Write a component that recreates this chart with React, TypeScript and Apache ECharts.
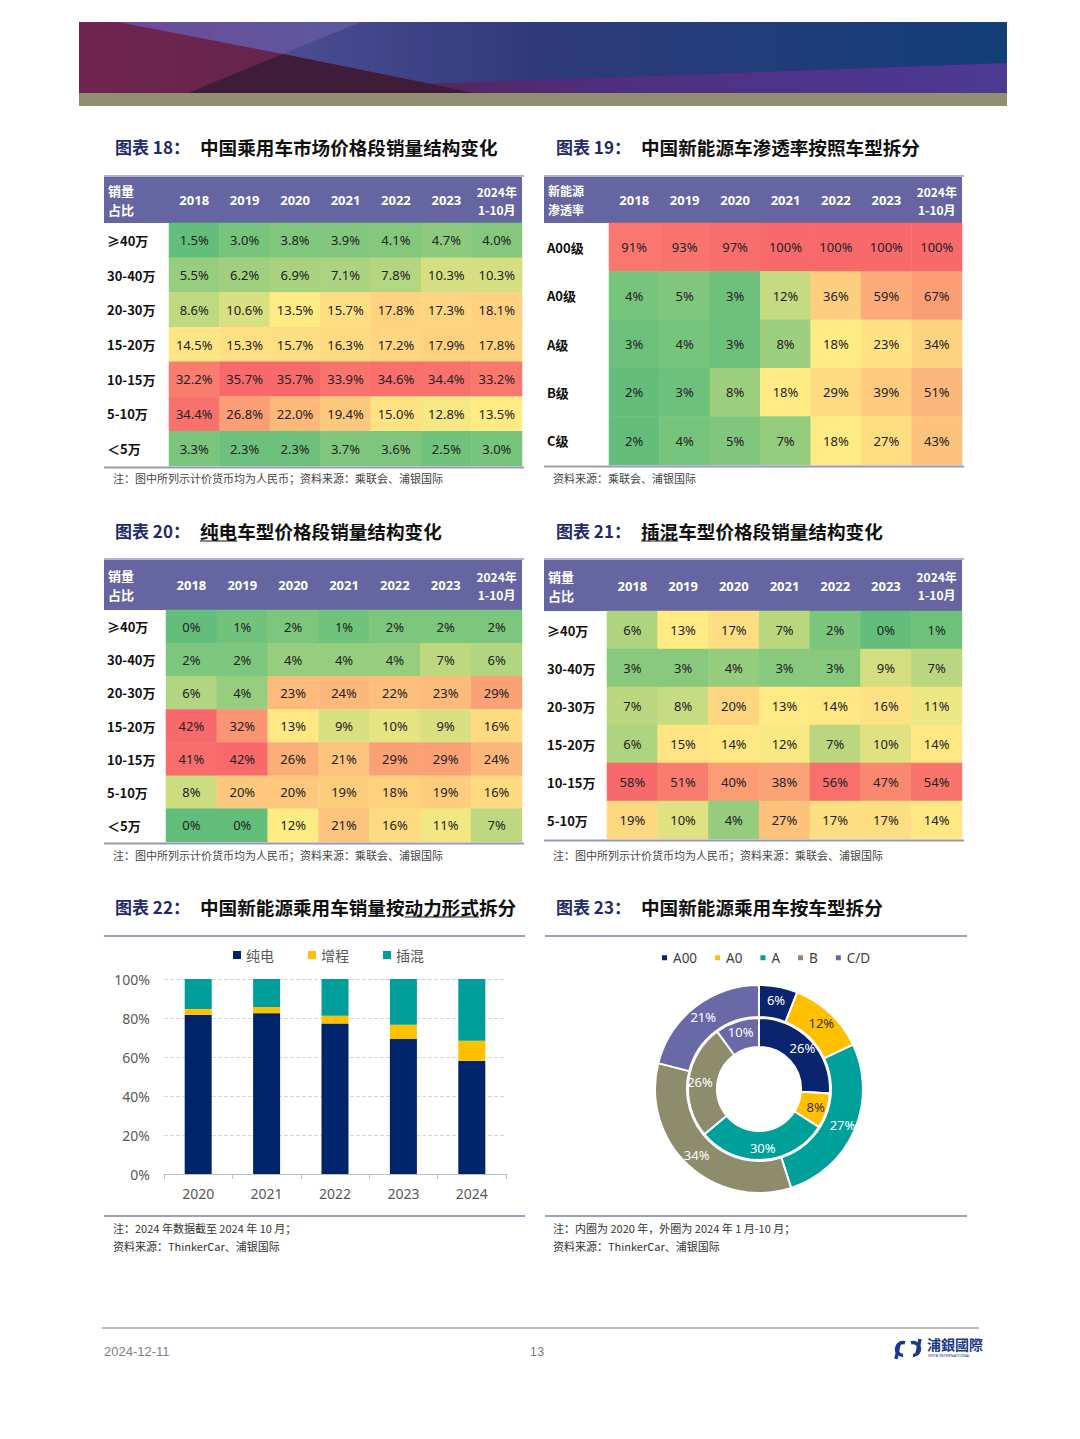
import React, { useEffect, useRef } from 'react';
import * as echarts from 'echarts';

const CJK = '"Noto Sans CJK SC", "Noto Sans", sans-serif';
const LAT = '"Noto Sans", "Noto Sans CJK SC", sans-serif';

// ---------- data ----------
const years = ['2018', '2019', '2020', '2021', '2022', '2023', '2024年\n1-10月'];
const priceBands7 = ['≥40万', '30-40万', '20-30万', '15-20万', '10-15万', '5-10万', '＜5万'];
const priceBands6 = ['≥40万', '30-40万', '20-30万', '15-20万', '10-15万', '5-10万'];
const segments = ['A00级', 'A0级', 'A级', 'B级', 'C级'];

// 图表18 中国乘用车市场价格段销量结构 (%)
const marketShare = [
  [1.5, 3.0, 3.8, 3.9, 4.1, 4.7, 4.0],
  [5.5, 6.2, 6.9, 7.1, 7.8, 10.3, 10.3],
  [8.6, 10.6, 13.5, 15.7, 17.8, 17.3, 18.1],
  [14.5, 15.3, 15.7, 16.3, 17.2, 17.9, 17.8],
  [32.2, 35.7, 35.7, 33.9, 34.6, 34.4, 33.2],
  [34.4, 26.8, 22.0, 19.4, 15.0, 12.8, 13.5],
  [3.3, 2.3, 2.3, 3.7, 3.6, 2.5, 3.0],
];
// 图表19 新能源渗透率 (%)
const nevPenetration = [
  [91, 93, 97, 100, 100, 100, 100],
  [4, 5, 3, 12, 36, 59, 67],
  [3, 4, 3, 8, 18, 23, 34],
  [2, 3, 8, 18, 29, 39, 51],
  [2, 4, 5, 7, 18, 27, 43],
];
// 图表20 纯电 (%)
const bevShare = [
  [0, 1, 2, 1, 2, 2, 2],
  [2, 2, 4, 4, 4, 7, 6],
  [6, 4, 23, 24, 22, 23, 29],
  [42, 32, 13, 9, 10, 9, 16],
  [41, 42, 26, 21, 29, 29, 24],
  [8, 20, 20, 19, 18, 19, 16],
  [0, 0, 12, 21, 16, 11, 7],
];
// 图表21 插混 (%)
const phevShare = [
  [6, 13, 17, 7, 2, 0, 1],
  [3, 3, 4, 3, 3, 9, 7],
  [7, 8, 20, 13, 14, 16, 11],
  [6, 15, 14, 12, 7, 10, 14],
  [58, 51, 40, 38, 56, 47, 54],
  [19, 10, 4, 27, 17, 17, 14],
];

// 图表22
const barYears = ['2020', '2021', '2022', '2023', '2024'];
const bevPower = [81.7, 82.5, 77.2, 69.2, 58.0];
const erevPower = [2.9, 3.1, 3.9, 7.3, 10.3];
const phevPower = [15.4, 14.4, 18.9, 23.5, 31.7];

// 图表23
const segNames = ['A00', 'A0', 'A', 'B', 'C/D'];
const seg2020 = [26, 8, 30, 26, 10];
const seg2024 = [6, 12, 27, 34, 21];

// ---------- styling helpers ----------
const GREEN = '#63BE7B';
const YELLOW = '#FFEB84';
const RED = '#F8696B';

function median(arr: number[]) {
  const s = [...arr].sort((a, b) => a - b);
  const pos = (s.length - 1) * 0.5;
  const lo = Math.floor(pos), hi = Math.ceil(pos);
  return s[lo] + (s[hi] - s[lo]) * (pos - lo);
}
// 3-colour scale position (0 = min, 1 = median, 2 = max), like a spreadsheet colour scale
function scalePos(rows: number[][]) {
  const flat = rows.flat();
  const min = Math.min(...flat), max = Math.max(...flat), mid = median(flat);
  return (v: number) => (v <= mid ? (mid === min ? 1 : (v - min) / (mid - min)) : 1 + (v - mid) / (max - mid));
}

const HEADER = '#6566A1';
const RULE = '#7D7DA8';
const TITLE_SIZE = 18.6;

const pct1 = (v: number) => v.toFixed(1) + '%';
const pct0 = (v: number) => v + '%';

const tables = [
  { rows: marketShare, names: priceBands7, corner: '销量\n占比', cornerSize: 13, left: 169, right: 522, top: 223, bottom: 466, hx: 104, htop: 177, fmt: pct1 },
  { rows: nevPenetration, names: segments, corner: '新能源\n渗透率', cornerSize: 12, left: 609, right: 962, top: 223, bottom: 465, hx: 544, htop: 177, fmt: pct0 },
  { rows: bevShare, names: priceBands7, corner: '销量\n占比', cornerSize: 13, left: 166, right: 522, top: 610, bottom: 842, hx: 104, htop: 560, fmt: pct0 },
  { rows: phevShare, names: priceBands6, corner: '销量\n占比', cornerSize: 13, left: 607, right: 962, top: 611, bottom: 839, hx: 544, htop: 560, fmt: pct0 },
];

function text(x: number, y: number, t: string, o: any = {}) {
  return {
    type: 'text', x, y, z: 20,
    style: {
      text: t, fill: o.fill || '#333', fontSize: o.size || 12, fontWeight: o.weight || 'normal',
      fontFamily: o.family || CJK, align: o.align || 'left', verticalAlign: o.va || 'middle',
      lineHeight: o.lh,
    },
  };
}
function line(x1: number, y1: number, x2: number, y2: number, stroke: string, w = 1) {
  return { type: 'line', z: 20, shape: { x1, y1, x2, y2 }, style: { stroke, lineWidth: w } };
}

export default function App() {
  const ref = useRef<HTMLDivElement>(null);
  useEffect(() => {
    document.body.style.margin = '0';
    const chart = echarts.init(ref.current!, undefined, { renderer: 'svg' });

    const grids: any[] = [];
    const xAxes: any[] = [];
    const yAxes: any[] = [];
    const series: any[] = [];
    const visualMaps: any[] = [];
    const graphics: any[] = [];

    // ---------- banner ----------
    graphics.push(
      { type: 'rect', z: 1, shape: { x: 79, y: 22, width: 928, height: 71 }, style: { fill: new echarts.graphic.LinearGradient(0, 0, 1, 0, [{ offset: 0, color: '#6F2551' }, { offset: 0.45, color: '#5B2447' }, { offset: 1, color: '#4A2348' }]) } },
      { type: 'polygon', z: 2, shape: { points: [[361, 22], [1007, 22], [1007, 63], [431, 84], [283, 54]] }, style: { fill: new echarts.graphic.LinearGradient(0, 0, 1, 0, [{ offset: 0, color: '#4C4C92' }, { offset: 0.35, color: '#2F3A7A' }, { offset: 1, color: '#123F78' }]) } },
      { type: 'polygon', z: 2, shape: { points: [[118, 22], [361, 22], [283, 54]] }, style: { fill: new echarts.graphic.LinearGradient(0, 0, 1, 0, [{ offset: 0, color: '#6D4A99' }, { offset: 1, color: '#5B5AA0' }]) } },
      { type: 'polygon', z: 2, shape: { points: [[283, 54], [475, 93], [188, 93]] }, style: { fill: '#3E1C3A' } },
      { type: 'polygon', z: 2, shape: { points: [[431, 84], [1007, 63], [1007, 93], [475, 93]] }, style: { fill: new echarts.graphic.LinearGradient(0, 0, 1, 0, [{ offset: 0, color: '#55265E' }, { offset: 0.3, color: '#4F2E80' }, { offset: 1, color: '#4C3A93' }]) } },
      { type: 'rect', z: 2, shape: { x: 79, y: 93, width: 928, height: 13 }, style: { fill: '#918F70' } },
    );

    // ---------- titles ----------
    const titles = [
      { x: 115, y: 146, n: '图表 18：', t: '中国乘用车市场价格段销量结构变化' },
      { x: 556, y: 146, n: '图表 19：', t: '中国新能源车渗透率按照车型拆分' },
      { x: 115, y: 530, n: '图表 20：', t: '纯电车型价格段销量结构变化' },
      { x: 556, y: 530, n: '图表 21：', t: '插混车型价格段销量结构变化' },
      { x: 115, y: 906, n: '图表 22：', t: '中国新能源乘用车销量按动力形式拆分' },
      { x: 556, y: 906, n: '图表 23：', t: '中国新能源乘用车按车型拆分' },
    ];
    titles.forEach((tt) => {
      graphics.push(text(tt.x, tt.y, tt.n, { fill: '#1F2A6B', size: 17, weight: 'bold' }));
      graphics.push(text(tt.x + 85, tt.y, tt.t, { fill: '#111', size: TITLE_SIZE, weight: 'bold' }));
    });
    graphics.push(line(200, 541, 200 + 2 * TITLE_SIZE, 541, '#111', 1.2));
    graphics.push(line(641, 541, 641 + 2 * TITLE_SIZE, 541, '#111', 1.2));
    graphics.push(line(200 + 11 * TITLE_SIZE, 917, 200 + 15 * TITLE_SIZE, 917, '#111', 1.2));

    // ---------- heatmaps ----------
    tables.forEach((t, i) => {
      const sp = scalePos(t.rows);
      const headerH = t.top - t.htop;
      grids.push({ left: t.left, top: t.top, width: t.right - t.left, height: t.bottom - t.top });
      xAxes.push({
        type: 'category', gridIndex: i, data: years, position: 'top', z: 10,
        axisLine: { show: false }, axisTick: { show: false }, splitLine: { show: false },
        axisLabel: {
          color: '#fff', fontWeight: 'bold', fontSize: 13, fontFamily: LAT, margin: headerH / 2,
          verticalAlign: 'middle', interval: 0,
          formatter: (v: string) => (v.includes('\n') ? v.split('\n').map((s) => `{s|${s}}`).join('\n') : v),
          rich: { s: { fontSize: 12, fontWeight: 'bold', color: '#fff', lineHeight: 18, fontFamily: CJK } },
        },
      });
      yAxes.push({
        type: 'category', gridIndex: i, data: t.names, inverse: true,
        axisLine: { show: false }, axisTick: { show: false }, splitLine: { show: false },
        axisLabel: { color: '#111', fontWeight: 'bold', fontSize: 13, fontFamily: CJK, align: 'left', margin: t.left - (t.hx + 3), interval: 0 },
      });
      series.push({
        type: 'heatmap', xAxisIndex: i, yAxisIndex: i,
        data: t.rows.flatMap((row, r) => row.map((v, c) => [c, r, v, sp(v)])),
        label: { show: true, color: '#222', fontSize: 13, fontFamily: LAT, formatter: (p: any) => t.fmt(p.value[2]) },
        itemStyle: { borderWidth: 0 },
        emphasis: { disabled: true },
      });
      visualMaps.push({
        type: 'continuous', show: false, seriesIndex: i, dimension: 3, min: 0, max: 2,
        inRange: { color: [GREEN, YELLOW, RED] },
      });
      graphics.push({ type: 'rect', z: -1, shape: { x: t.hx, y: t.htop, width: t.right - t.hx, height: headerH }, style: { fill: HEADER } });
      graphics.push(line(t.hx, t.htop - 1, t.right + 2, t.htop - 1, '#9A9AB8', 1.5));
      graphics.push(line(t.hx, t.bottom + 1.5, t.right + 2, t.bottom + 1.5, '#9A9AB8', 2));
      graphics.push(text(t.hx + 4, t.htop + headerH / 2, t.corner, { fill: '#fff', size: t.cornerSize, weight: 'bold', lh: 19 }));
    });

    const NOTE = 11;
    const note1 = '注：图中所列示计价货币均为人民币；资料来源：乘联会、浦银国际';
    graphics.push(text(113, 478, note1, { size: NOTE, fill: '#444' }));
    graphics.push(text(553, 478, '资料来源：乘联会、浦银国际', { size: NOTE, fill: '#444' }));
    graphics.push(text(113, 855, note1, { size: NOTE, fill: '#444' }));
    graphics.push(text(553, 855, note1, { size: NOTE, fill: '#444' }));

    // ---------- bar chart ----------
    grids.push({ left: 164, top: 979, width: 342, height: 195 });
    xAxes.push({
      type: 'category', gridIndex: 4, data: barYears,
      axisLine: { lineStyle: { color: '#BFBFBF' } },
      axisTick: { show: true, length: 5, lineStyle: { color: '#BFBFBF' } },
      axisLabel: { color: '#595959', fontSize: 14, fontFamily: LAT, margin: 12 },
    });
    yAxes.push({
      type: 'value', gridIndex: 4, min: 0, max: 100, interval: 20,
      axisLine: { show: false }, axisTick: { show: false },
      axisLabel: { formatter: '{value}%', color: '#595959', fontSize: 14, fontFamily: LAT, margin: 14 },
      splitLine: { lineStyle: { type: 'dashed', color: '#D9D9D9' } },
    });
    const barCommon = { type: 'bar', stack: 'power', xAxisIndex: 4, yAxisIndex: 4, barWidth: 27, emphasis: { disabled: true } };
    series.push({ ...barCommon, name: '纯电', data: bevPower, itemStyle: { color: '#002469' } });
    series.push({ ...barCommon, name: '增程', data: erevPower, itemStyle: { color: '#FFC000' } });
    series.push({ ...barCommon, name: '插混', data: phevPower, itemStyle: { color: '#009E9A' } });

    graphics.push(line(104, 936, 525, 936, RULE, 1.5));
    graphics.push(line(104, 1216, 525, 1216, RULE, 1.5));
    graphics.push(text(113, 1228, '注：2024 年数据截至 2024 年 10 月；', { size: NOTE, fill: '#333' }));
    graphics.push(text(113, 1246, '资料来源：ThinkerCar、浦银国际', { size: NOTE, fill: '#333' }));

    // ---------- donut ----------
    const pieColors = ['#0A2470', '#FFC000', '#00A09A', '#8D8C6C', '#6A69A8'];
    const pieLabel = (i: number) => ({ color: i === 1 ? '#333' : '#fff' });
    const pieCommon = {
      type: 'pie', center: [759, 1089], startAngle: 90, color: pieColors, emphasis: { disabled: true },
      label: { show: true, position: 'inside', formatter: '{c}%', fontSize: 13, fontFamily: LAT },
      labelLine: { show: false },
      itemStyle: { borderColor: '#fff', borderWidth: 2 },
    };
    series.push({ ...pieCommon, name: '2020', radius: [42, 71], data: segNames.map((n, i) => ({ name: n, value: seg2020[i], label: pieLabel(i) })) });
    series.push({ ...pieCommon, name: '2024', radius: [72, 104], data: segNames.map((n, i) => ({ name: n, value: seg2024[i], label: pieLabel(i) })) });

    graphics.push(line(545, 936, 967, 936, RULE, 1.5));
    graphics.push(line(545, 1216, 967, 1216, RULE, 1.5));
    graphics.push(text(553, 1228, '注：内圈为 2020 年，外圈为 2024 年 1 月-10 月；', { size: NOTE, fill: '#333' }));
    graphics.push(text(553, 1246, '资料来源：ThinkerCar、浦银国际', { size: NOTE, fill: '#333' }));

    // ---------- footer ----------
    graphics.push(line(102, 1328, 979, 1328, '#A8A68C', 1.5));
    graphics.push(text(104, 1351, '2024-12-11', { size: 13, fill: '#808080', family: '"Liberation Sans", Arial, sans-serif' }));
    graphics.push(text(537, 1351, '13', { size: 13, fill: '#808080', align: 'center', family: '"Liberation Sans", Arial, sans-serif' }));
    graphics.push({ type: 'arc', z: 20, shape: { cx: 903, cy: 1349, r: 6.5, startAngle: Math.PI * 0.5, endAngle: Math.PI * 1.6 }, style: { stroke: '#1B3A8C', lineWidth: 3.5, fill: 'none' } });
    graphics.push(line(899, 1344, 896, 1359, '#1B3A8C', 3.5));
    graphics.push({ type: 'arc', z: 20, shape: { cx: 913, cy: 1349, r: 6.5, startAngle: -Math.PI * 0.6, endAngle: Math.PI * 0.5 }, style: { stroke: '#1B3A8C', lineWidth: 3.5, fill: 'none' } });
    graphics.push(line(917, 1354, 920, 1339, '#1B3A8C', 3.5));
    graphics.push(text(927, 1344, '浦銀國際', { size: 14, weight: 'bold', fill: '#1B3A8C' }));
    graphics.push(text(928, 1355, 'SPDB INTERNATIONAL', { size: 4, fill: '#1B3A8C', family: LAT }));

    chart.setOption({
      animation: false,
      backgroundColor: '#fff',
      grid: grids,
      xAxis: xAxes,
      yAxis: yAxes,
      visualMap: visualMaps,
      legend: [
        {
          data: ['纯电', '增程', '插混'], left: 228, top: 943, icon: 'rect', itemWidth: 8, itemHeight: 8, itemGap: 34,
          textStyle: { fontSize: 14, color: '#595959', fontFamily: CJK },
        },
        {
          data: segNames, left: 655, top: 946, icon: 'rect', itemWidth: 7, itemHeight: 7, itemGap: 16,
          textStyle: { fontSize: 13.5, color: '#404040', fontFamily: LAT },
        },
      ],
      series,
      graphic: { elements: graphics },
    });
    return () => chart.dispose();
  }, []);
  return <div ref={ref} style={{ position: 'absolute', left: 0, top: 0, width: 1080, height: 1439 }} />;
}
